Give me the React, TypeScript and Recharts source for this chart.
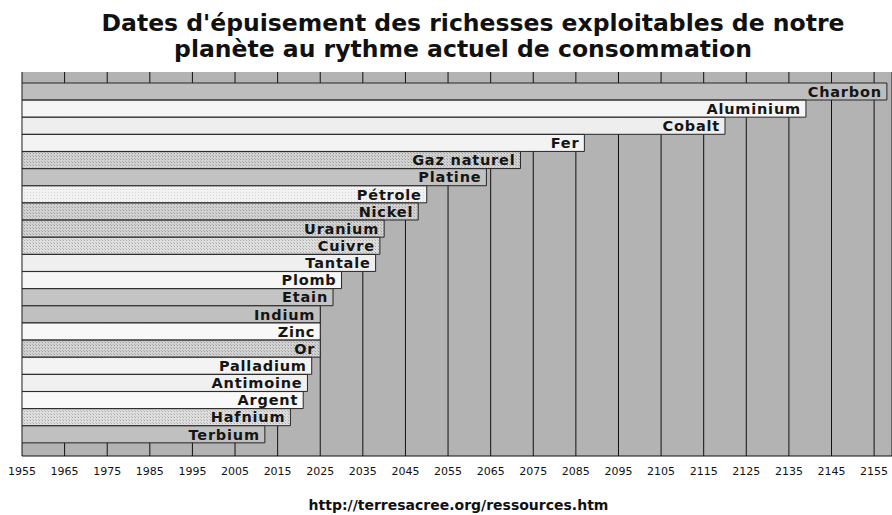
import React from "react";
import {
  BarChart,
  Bar,
  XAxis,
  YAxis,
  CartesianGrid,
  Cell,
  LabelList,
} from "recharts";

const resources = [
  "Charbon",
  "Aluminium",
  "Cobalt",
  "Fer",
  "Gaz naturel",
  "Platine",
  "Pétrole",
  "Nickel",
  "Uranium",
  "Cuivre",
  "Tantale",
  "Plomb",
  "Etain",
  "Indium",
  "Zinc",
  "Or",
  "Palladium",
  "Antimoine",
  "Argent",
  "Hafnium",
  "Terbium",
];

const depletionYears = [
  2158, 2139, 2120, 2087, 2072, 2064, 2050, 2048, 2040, 2039, 2038, 2030,
  2028, 2025, 2025, 2025, 2023, 2022, 2021, 2018, 2012,
];

const yearTicks = [
  1955, 1965, 1975, 1985, 1995, 2005, 2015, 2025, 2035, 2045, 2055, 2065,
  2075, 2085, 2095, 2105, 2115, 2125, 2135, 2145, 2155,
];

// fill per bar, same order as resources
const barFills = [
  "#bebebe",
  "#f6f6f6",
  "#eeeeee",
  "#f3f3f3",
  "url(#dotsDark)",
  "#c2c2c2",
  "url(#dotsLight)",
  "url(#dotsDark)",
  "url(#dotsDark)",
  "url(#dotsMid)",
  "#efefef",
  "#f6f6f6",
  "#c4c4c4",
  "#c0c0c0",
  "#f8f8f8",
  "url(#dotsDark)",
  "#f3f3f3",
  "#f0f0f0",
  "#f9f9f9",
  "url(#dotsMid)",
  "#c0c0c0",
];

const data = resources.map((name, i) => ({ name, year: depletionYears[i] }));

const font = "'DejaVu Sans', Verdana, sans-serif";

export default function App() {
  return (
    <div
      style={{
        position: "absolute",
        left: 0,
        top: 0,
        width: 892,
        height: 515,
        background: "#fff",
        fontFamily: font,
      }}
    >
      <div
        style={{
          position: "absolute",
          left: 0,
          top: 10,
          width: 946,
          textAlign: "center",
          fontWeight: "bold",
          fontSize: 23.5,
          lineHeight: "26px",
          color: "#111",
          whiteSpace: "nowrap",
        }}
      >
        Dates d'épuisement des richesses exploitables de notre
      </div>
      <div
        style={{
          position: "absolute",
          left: 0,
          top: 36,
          width: 926,
          textAlign: "center",
          fontWeight: "bold",
          fontSize: 23.5,
          lineHeight: "26px",
          color: "#111",
          whiteSpace: "nowrap",
        }}
      >
        planète au rythme actuel de consommation
      </div>
      <BarChart
        width={892}
        height={515}
        data={data}
        layout="vertical"
        barCategoryGap={0}
        barGap={0}
        margin={{ top: 72, right: 0, left: 22, bottom: 29 }}
      >
        <defs>
          <pattern id="dotsDark" width="3" height="3" patternUnits="userSpaceOnUse">
            <rect width="3" height="3" fill="#d2d2d2" />
            <rect width="1" height="1" fill="#9e9e9e" />
            <rect x="2" y="2" width="1" height="1" fill="#b0b0b0" />
          </pattern>
          <pattern id="dotsMid" width="3" height="3" patternUnits="userSpaceOnUse">
            <rect width="3" height="3" fill="#dedede" />
            <rect width="1" height="1" fill="#ababab" />
            <rect x="2" y="2" width="1" height="1" fill="#c0c0c0" />
          </pattern>
          <pattern id="dotsLight" width="3" height="3" patternUnits="userSpaceOnUse">
            <rect width="3" height="3" fill="#f2f2f2" />
            <rect width="1" height="1" fill="#d4d4d4" />
          </pattern>
        </defs>
        <CartesianGrid
          horizontal={false}
          stroke="#111"
          fill="#b3b3b3"
          fillOpacity={1}
        />
        <XAxis
          type="number"
          domain={[1955, 2159.2]}
          ticks={yearTicks}
          allowDataOverflow
          height={30}
          tickLine={false}
          tickMargin={5}
          axisLine={{ stroke: "#111" }}
          tick={{ fontSize: 11, fill: "#111", fontFamily: font }}
          interval={0}
        />
        <YAxis
          type="category"
          dataKey="name"
          hide
          width={0}
          padding={{ top: 11, bottom: 13 }}
        />
        <Bar
          dataKey="year"
          stroke="#262626"
          strokeWidth={1}
          isAnimationActive={false}
        >
          {data.map((d, i) => (
            <Cell key={d.name} fill={barFills[i]} />
          ))}
          <LabelList
            dataKey="name"
            position="insideRight"
            offset={5}
            fill="#151515"
            fontSize={14.5}
            fontWeight="bold"
            fontFamily={font}
            letterSpacing={0.8}
          />
        </Bar>
      </BarChart>
      <div
        style={{
          position: "absolute",
          left: 0,
          top: 497,
          width: 917,
          textAlign: "center",
          fontWeight: "bold",
          fontSize: 14,
          color: "#111",
        }}
      >
        http://terresacree.org/ressources.htm
      </div>
    </div>
  );
}
